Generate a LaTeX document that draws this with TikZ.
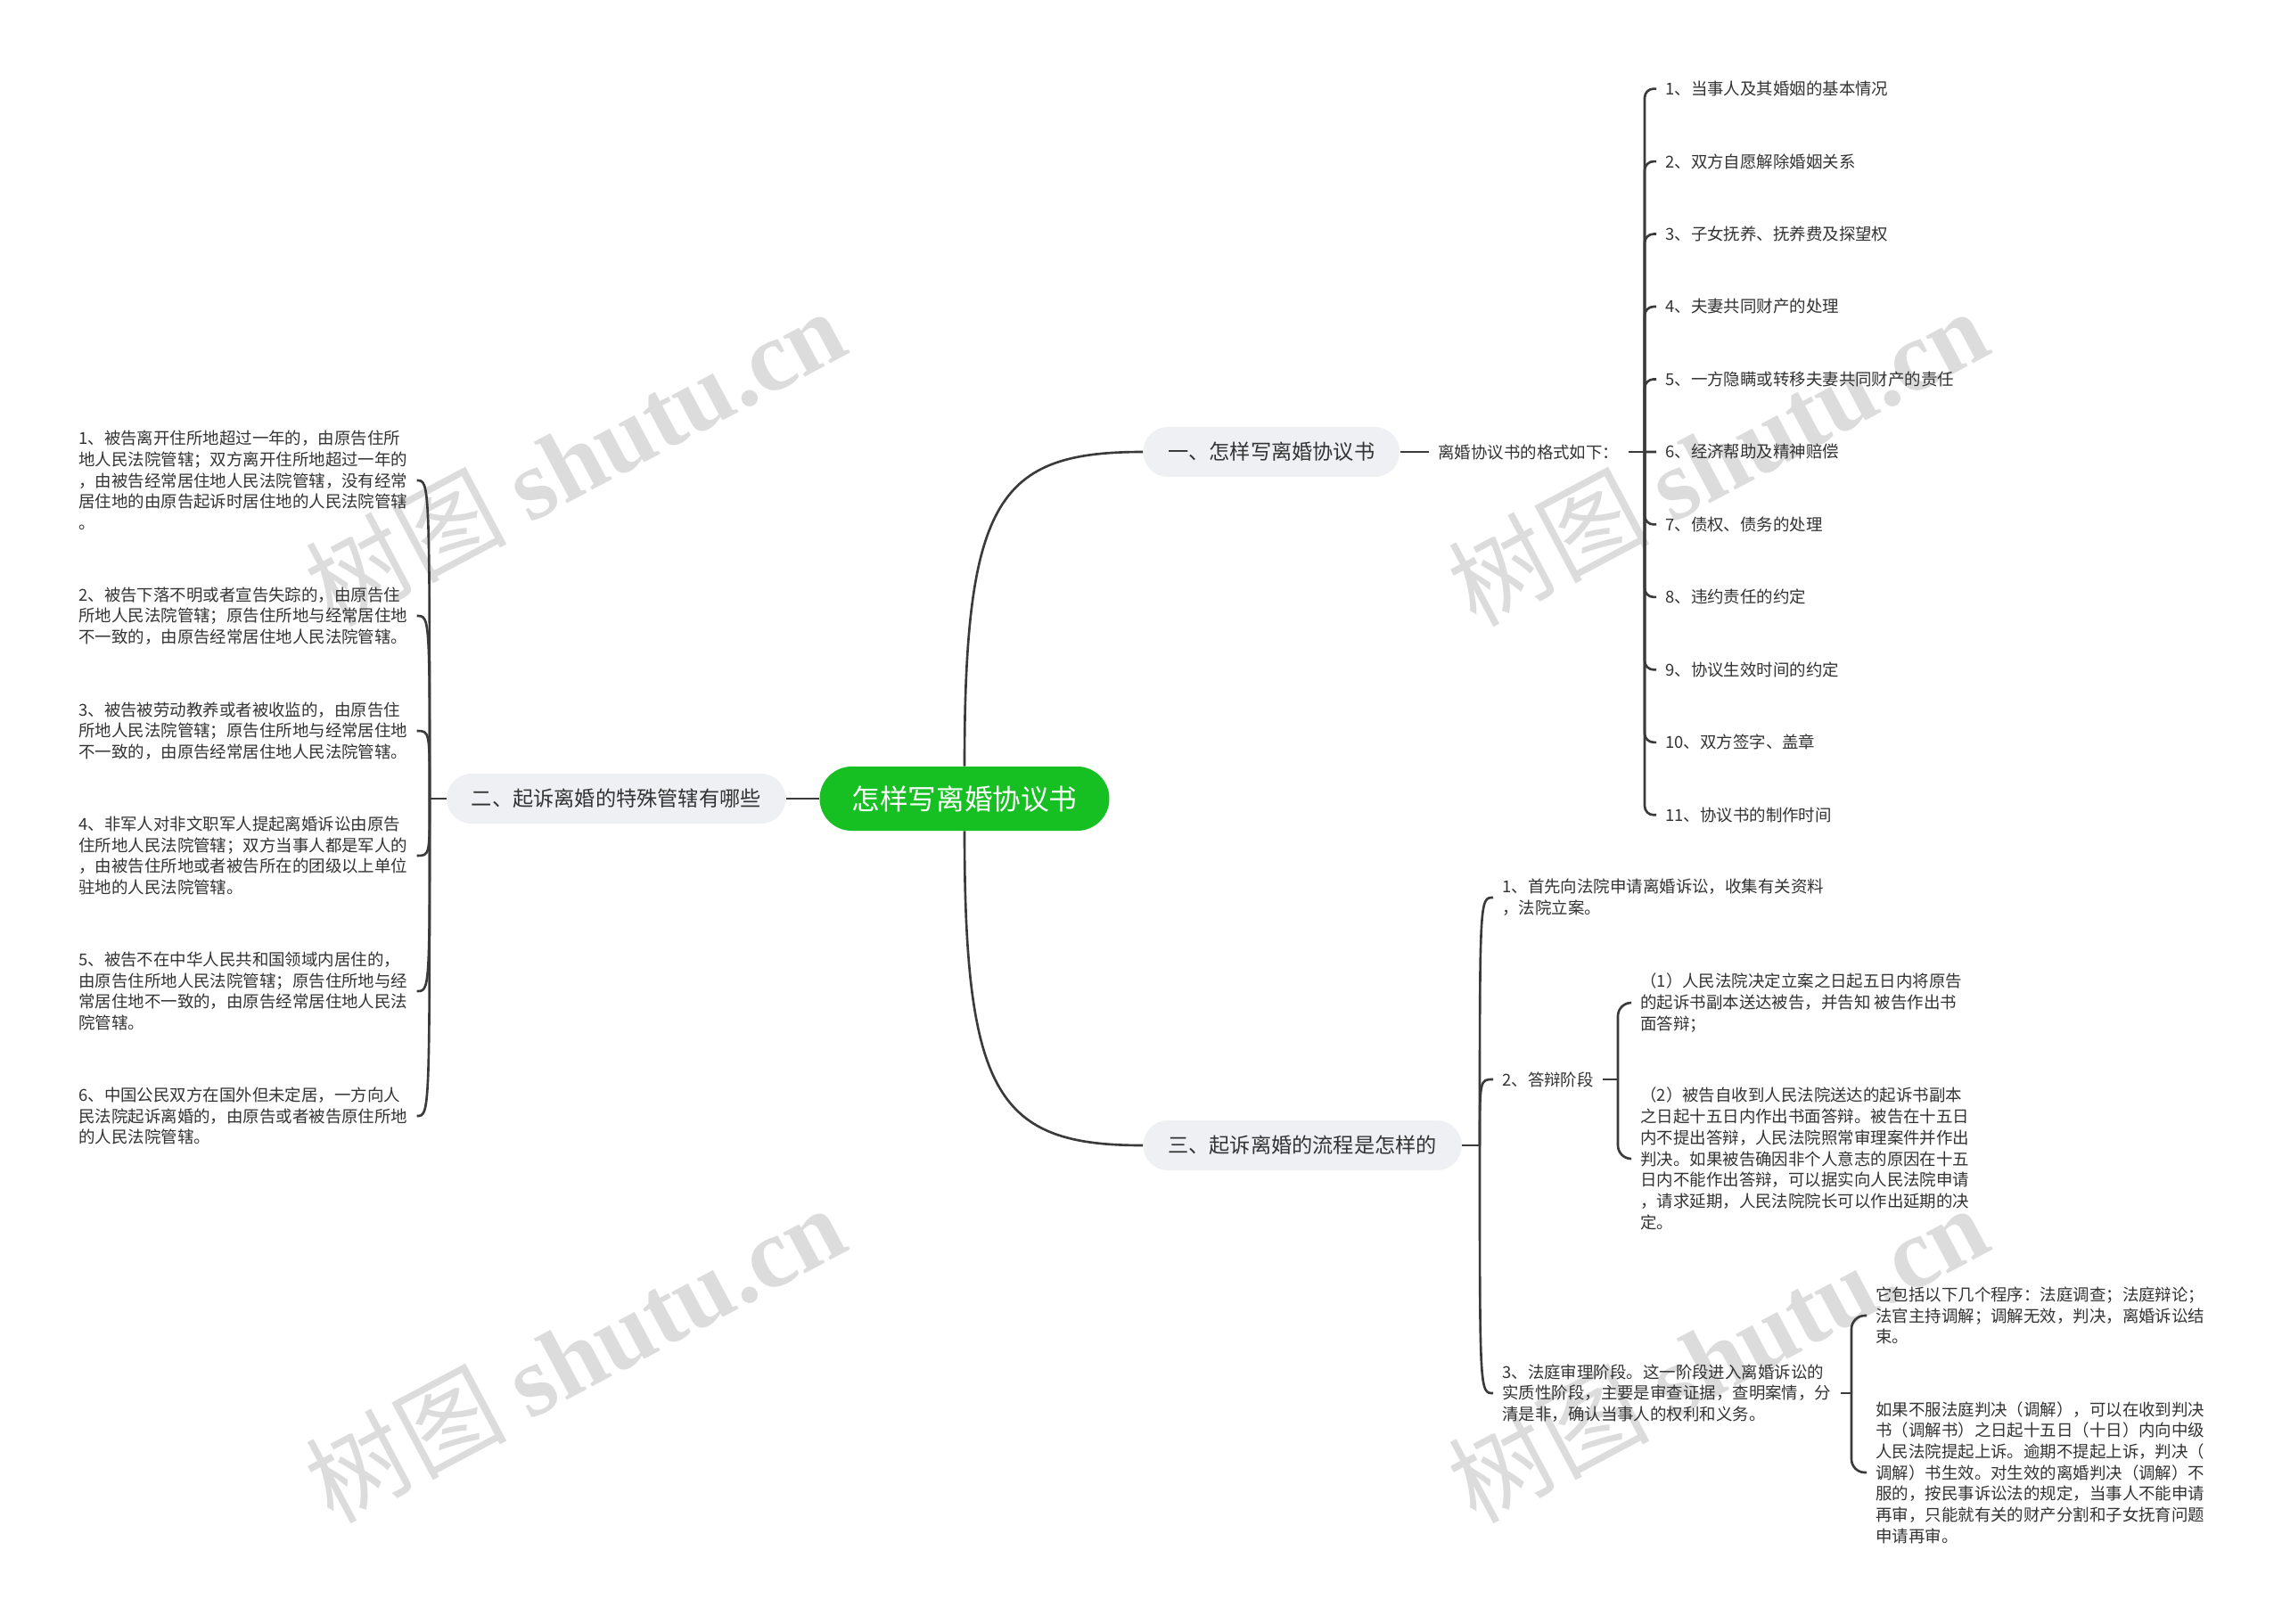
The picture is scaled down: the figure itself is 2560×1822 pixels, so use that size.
\documentclass[tikz,border=0pt]{standalone}
\usepackage{fontspec}
\setmainfont{Noto Sans CJK SC}
\newfontfamily\wmserif{Liberation Serif}
\usetikzlibrary{positioning,calc}
\definecolor{rootgreen}{HTML}{17C022}
\definecolor{pillgray}{HTML}{EEF0F3}
\definecolor{ink}{HTML}{333333}
\definecolor{wire}{HTML}{3A3A3A}
\definecolor{wmgray}{HTML}{DCDCDC}
\tikzset{conn/.style={draw=wire,line width=1.5pt},
  rootbox/.style={fill=rootgreen,text=white,rounded corners=0.72cm,minimum height=1.44cm,inner xsep=0.72cm,font=\fontsize{18pt}{22pt}\selectfont},
  pill/.style={fill=pillgray,text=ink,rounded corners=0.56cm,minimum height=1.12cm,inner xsep=0.56cm,font=\fontsize{13.2pt}{16pt}\selectfont},
  leaf/.style={text=ink,align=left,inner xsep=0.2cm,inner ysep=0.06cm,font=\fontsize{10.5pt}{13.5pt}\selectfont},
  wmark/.style={text=wmgray,rotate=28,font=\fontsize{64pt}{64pt}\selectfont}}

\begin{document}
\begin{tikzpicture}[x=0.02cm,y=-0.02cm]
\fill[white] (0,0) rectangle (2560,1822);
% watermarks
\foreach \wx/\wy in {645/512,1927/512,645/1518,1927/1518}
  \node[wmark] at (\wx,\wy) {树图 {\wmserif\bfseries shutu.cn}};

\node[rootbox] (root) at (1082,896) {怎样写离婚协议书};
\node[pill,anchor=west] (b1) at (1282,507) {一、怎样写离婚协议书};
\node[pill,anchor=east] (b2) at (882,896) {二、起诉离婚的特殊管辖有哪些};
\node[pill,anchor=west] (b3) at (1282,1285) {三、起诉离婚的流程是怎样的};

\draw[conn] (root.north) .. controls (1082,560) and (1120,507) .. (b1.west);
\draw[conn] (root.west) -- (b2.east);
\draw[conn] (root.south) .. controls (1082,1230) and (1120,1285) .. (b3.west);

% format list
\node[leaf,anchor=west] (fmt) at (1603,507) {离婚协议书的格式如下：};
\coordinate (j1) at (1845,507);
\draw[conn] (b1.east) -- (fmt.west);
\draw[conn] (fmt.east) -- (j1);
\foreach \i/\txt in {1/{1、当事人及其婚姻的基本情况},2/{2、双方自愿解除婚姻关系},
    3/{3、子女抚养、抚养费及探望权},4/{4、夫妻共同财产的处理},
    5/{5、一方隐瞒或转移夫妻共同财产的责任},6/{6、经济帮助及精神赔偿},
    7/{7、债权、债务的处理},8/{8、违约责任的约定},9/{9、协议生效时间的约定},
    10/{10、双方签字、盖章},11/{11、协议书的制作时间}}
  \node[leaf,anchor=west] (f\i) at (1858,{99.6+81.47*(\i-1)}) {\txt};
\foreach \i in {1,...,5,7,8,9,10,11}
  \draw[conn,rounded corners=0.2cm] (j1) |- (f\i.west);
\draw[conn] (j1) -- (f6.west);

% special jurisdiction
\coordinate (j2) at (482,896);
\draw[conn] (b2.west) -- (j2);
\node[leaf,anchor=west] (l1) at (78,539) {1、被告离开住所地超过一年的，由原告住所\\地人民法院管辖；双方离开住所地超过一年的\\，由被告经常居住地人民法院管辖，没有经常\\居住地的由原告起诉时居住地的人民法院管辖\\。};
\node[leaf,anchor=west] (l2) at (78,691) {2、被告下落不明或者宣告失踪的，由原告住\\所地人民法院管辖；原告住所地与经常居住地\\不一致的，由原告经常居住地人民法院管辖。};
\node[leaf,anchor=west] (l3) at (78,820) {3、被告被劳动教养或者被收监的，由原告住\\所地人民法院管辖；原告住所地与经常居住地\\不一致的，由原告经常居住地人民法院管辖。};
\node[leaf,anchor=west] (l4) at (78,960) {4、非军人对非文职军人提起离婚诉讼由原告\\住所地人民法院管辖；双方当事人都是军人的\\，由被告住所地或者被告所在的团级以上单位\\驻地的人民法院管辖。};
\node[leaf,anchor=west] (l5) at (78,1112) {5、被告不在中华人民共和国领域内居住的，\\由原告住所地人民法院管辖；原告住所地与经\\常居住地不一致的，由原告经常居住地人民法\\院管辖。};
\node[leaf,anchor=west] (l6) at (78,1252) {6、中国公民双方在国外但未定居，一方向人\\民法院起诉离婚的，由原告或者被告原住所地\\的人民法院管辖。};
\foreach \i in {1,...,6}
  \draw[conn] (j2) .. controls (j2 |- l\i.east) .. (l\i.east);

% procedure
\coordinate (j3) at (1660,1285);
\draw[conn] (b3.east) -- (j3);
\node[leaf,anchor=west] (c1) at (1675,1007) {1、首先向法院申请离婚诉讼，收集有关资料\\，法院立案。};
\node[leaf,anchor=west] (c2) at (1675,1211) {2、答辩阶段};
\node[leaf,anchor=west] (c3) at (1675,1563) {3、法庭审理阶段。这一阶段进入离婚诉讼的\\实质性阶段，主要是审查证据，查明案情，分\\清是非，确认当事人的权利和义务。};
\foreach \i in {1,2,3}
  \draw[conn] (j3) .. controls (j3 |- c\i.west) .. (c\i.west);

\coordinate (j4) at (1815,1211);
\draw[conn] (c2.east) -- (j4);
\node[leaf,anchor=west] (d1) at (1830,1125) {（1）人民法院决定立案之日起五日内将原告\\的起诉书副本送达被告，并告知 被告作出书\\面答辩；};
\node[leaf,anchor=west] (d2) at (1830,1300) {（2）被告自收到人民法院送达的起诉书副本\\之日起十五日内作出书面答辩。被告在十五日\\内不提出答辩，人民法院照常审理案件并作出\\判决。如果被告确因非个人意志的原因在十五\\日内不能作出答辩，可以据实向人民法院申请\\，请求延期，人民法院院长可以作出延期的决\\定。};
\draw[conn,rounded corners=0.3cm] (j4) |- (d1.west);
\draw[conn,rounded corners=0.3cm] (j4) |- (d2.west);

\coordinate (j5) at (2077,1563);
\draw[conn] (c3.east) -- (j5);
\node[leaf,anchor=west] (e1) at (2094,1476) {它包括以下几个程序：法庭调查；法庭辩论；\\法官主持调解；调解无效，判决，离婚诉讼结\\束。};
\node[leaf,anchor=west] (e2) at (2094,1652) {如果不服法庭判决（调解），可以在收到判决\\书（调解书）之日起十五日（十日）内向中级\\人民法院提起上诉。逾期不提起上诉，判决（\\调解）书生效。对生效的离婚判决（调解）不\\服的，按民事诉讼法的规定，当事人不能申请\\再审，只能就有关的财产分割和子女抚育问题\\申请再审。};
\draw[conn,rounded corners=0.3cm] (j5) |- (e1.west);
\draw[conn,rounded corners=0.3cm] (j5) |- (e2.west);
\end{tikzpicture}
\end{document}
